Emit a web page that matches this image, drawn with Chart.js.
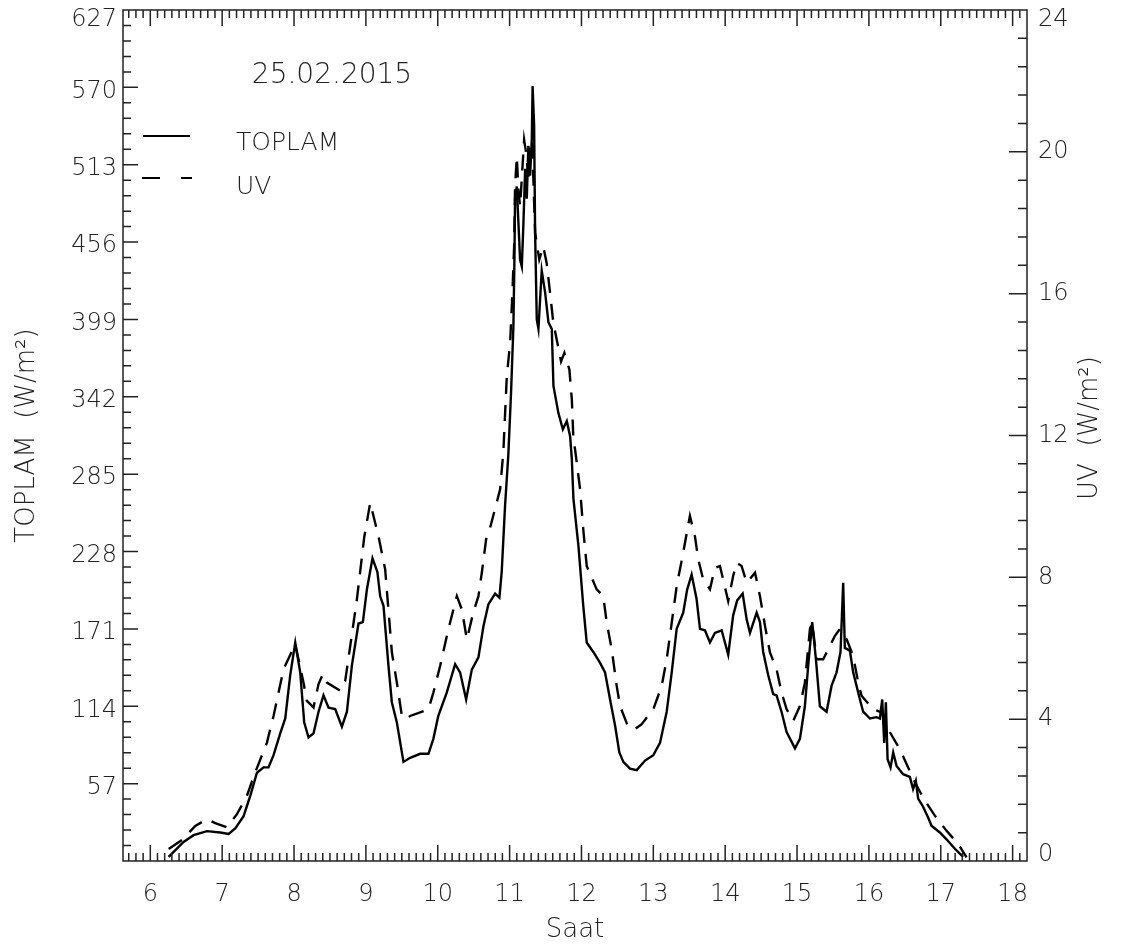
<!DOCTYPE html>
<html>
<head>
<meta charset="utf-8">
<script src="https://cdn.jsdelivr.net/npm/chart.js@4.4.0/dist/chart.umd.min.js"></script>
<style>
  body { margin: 0; background: #fff; }
  .wrap { width: 1123px; height: 952px; position: relative; }
</style>
</head>
<body>
<div class="wrap"><canvas id="myChart"></canvas></div>
<script>
// data
const toplamHours = [6.255, 6.463, 6.602, 6.789, 6.974, 7.089, 7.182, 7.298, 7.391, 7.484,
  7.576, 7.645, 7.715, 7.808, 7.878, 7.947, 8.017, 8.086, 8.142, 8.202,
  8.271, 8.341, 8.410, 8.480, 8.573, 8.666, 8.736, 8.805, 8.897, 8.958,
  9.014, 9.092, 9.160, 9.199, 9.245, 9.314, 9.361, 9.431, 9.523, 9.616,
  9.755, 9.871, 9.939, 10.008, 10.125, 10.242, 10.311, 10.395, 10.474, 10.566,
  10.636, 10.704, 10.798, 10.858, 10.890, 10.937, 10.982, 11.020, 11.053, 11.067,
  11.076, 11.100, 11.146, 11.170, 11.191, 11.216, 11.239, 11.261, 11.285, 11.309,
  11.320, 11.341, 11.355, 11.378, 11.401, 11.447, 11.494, 11.540, 11.587, 11.610,
  11.679, 11.741, 11.796, 11.842, 11.866, 11.888, 11.958, 12.025, 12.073, 12.165,
  12.259, 12.328, 12.398, 12.467, 12.527, 12.583, 12.676, 12.769, 12.885, 13.000,
  13.093, 13.186, 13.256, 13.325, 13.416, 13.471, 13.533, 13.602, 13.649, 13.718,
  13.788, 13.857, 13.951, 14.042, 14.111, 14.167, 14.243, 14.299, 14.345, 14.438,
  14.484, 14.529, 14.598, 14.668, 14.715, 14.784, 14.855, 14.971, 15.040, 15.109,
  15.155, 15.211, 15.262, 15.318, 15.411, 15.480, 15.550, 15.605, 15.642, 15.665,
  15.735, 15.781, 15.828, 15.875, 15.920, 16.014, 16.107, 16.153, 16.185, 16.213,
  16.236, 16.260, 16.301, 16.338, 16.385, 16.476, 16.570, 16.615, 16.653, 16.685,
  16.754, 16.824, 16.871, 16.987, 17.080, 17.196, 17.311];
const toplamValues = [3, 14, 19, 22, 21, 20, 24, 33, 48, 65,
  69, 69, 78, 94, 105, 137, 161, 139, 102, 91,
  94, 110, 122, 113, 112, 99, 110, 144, 175, 176,
  200, 223, 213, 195, 188, 144, 117, 102, 73, 76,
  79, 79, 90, 107, 124, 145, 139, 119, 141, 150,
  173, 189, 197, 194, 213, 262, 299, 345, 394, 443,
  488, 497, 443, 438, 468, 510, 488, 527, 505, 532,
  571, 542, 463, 399, 392, 435, 419, 397, 392, 350,
  330, 318, 324, 313, 296, 267, 232, 188, 161, 154,
  146, 139, 119, 100, 80, 73, 68, 67, 74, 78,
  87, 110, 139, 171, 183, 200, 211, 193, 171, 170,
  161, 168, 170, 152, 181, 192, 197, 178, 168, 183,
  176, 154, 137, 123, 122, 110, 95, 83, 90, 114,
  144, 176, 149, 114, 110, 129, 139, 154, 205, 157,
  155, 139, 129, 119, 110, 105, 106, 105, 119, 87,
  117, 75, 69, 80, 70, 64, 62, 53, 59, 46,
  40, 32, 26, 21, 16, 9, 3];

const uvHours = [6.255, 6.441, 6.626, 6.789, 6.904, 7.067, 7.206, 7.345, 7.460, 7.623,
  7.715, 7.854, 8.017, 8.132, 8.178, 8.271, 8.341, 8.402, 8.458, 8.643,
  8.712, 8.782, 8.875, 8.976, 9.060, 9.175, 9.268, 9.362, 9.431, 9.501,
  9.570, 9.616, 9.871, 9.939, 10.033, 10.148, 10.266, 10.335, 10.405, 10.495,
  10.566, 10.613, 10.673, 10.729, 10.868, 10.913, 10.961, 11.007, 11.039, 11.063,
  11.076, 11.100, 11.122, 11.146, 11.202, 11.230, 11.261, 11.285, 11.313, 11.355,
  11.413, 11.468, 11.516, 11.563, 11.609, 11.656, 11.716, 11.762, 11.832, 11.866,
  11.888, 11.911, 11.981, 12.025, 12.073, 12.212, 12.303, 12.352, 12.421, 12.490,
  12.537, 12.652, 12.745, 12.838, 13.000, 13.117, 13.186, 13.256, 13.325, 13.416,
  13.509, 13.579, 13.625, 13.694, 13.788, 13.857, 13.927, 14.042, 14.111, 14.159,
  14.228, 14.299, 14.415, 14.484, 14.554, 14.623, 14.715, 14.784, 14.855, 14.947,
  15.040, 15.109, 15.179, 15.211, 15.272, 15.364, 15.457, 15.527, 15.596, 15.690,
  15.781, 15.851, 15.898, 16.059, 16.176, 16.292, 16.431, 16.546, 16.640, 16.779,
  16.918, 17.081, 17.242, 17.359];
const uvValues = [0.34, 0.59, 0.99, 1.18, 1.07, 0.95, 1.32, 1.84, 2.50, 3.34,
  4.09, 5.41, 6.11, 5.03, 4.52, 4.33, 4.99, 5.27, 5.03, 4.80,
  5.08, 6.06, 7.38, 9.12, 10.10, 9.16, 8.23, 5.88, 5.03, 4.09,
  4.00, 4.09, 4.28, 4.75, 5.50, 6.54, 7.47, 7.10, 6.25, 7.01,
  7.47, 8.13, 9.07, 9.40, 10.48, 11.55, 13.67, 14.61, 16.02, 17.33,
  19.02, 19.87, 18.93, 18.46, 20.34, 19.97, 19.30, 20.15, 20.34, 17.72,
  16.96, 17.33, 16.86, 16.02, 15.17, 14.70, 14.09, 14.33, 13.86, 13.01,
  11.89, 11.61, 10.48, 9.35, 8.32, 7.66, 7.47, 6.72, 5.97, 4.94,
  4.37, 3.77, 3.72, 3.86, 4.28, 4.94, 5.69, 6.72, 7.75, 8.70,
  9.73, 9.16, 8.51, 7.94, 7.66, 8.27, 8.32, 7.33, 8.04, 8.41,
  8.32, 7.85, 8.13, 7.47, 6.63, 5.88, 5.41, 4.75, 4.28, 3.95,
  4.37, 5.03, 6.54, 6.72, 5.69, 5.69, 6.06, 6.35, 6.54, 6.25,
  5.78, 5.03, 4.66, 4.28, 4.19, 3.63, 3.15, 2.64, 2.22, 1.70,
  1.28, 0.85, 0.48, 0.10];

const hourTicks = [6, 7, 8, 9, 10, 11, 12, 13, 14, 15, 16, 17, 18];
const dateText = '25.02.2015';

const FONT = "'DejaVu Sans', sans-serif";
const INK = '#222';

// box, inward ticks on all four sides, edge labels, legend, date and right title
const frame = {
  id: 'frame',
  afterDatasetsDraw(chart) {
    const c = chart.ctx;
    const a = chart.chartArea;
    const x = chart.scales.x, y = chart.scales.y, y1 = chart.scales.y1;
    c.save();
    c.strokeStyle = INK;
    c.lineWidth = 1.5;
    c.strokeRect(a.left, a.top, a.right - a.left, a.bottom - a.top);

    c.beginPath();
    for (let k = 57; k <= 181; k++) {
      const px = x.getPixelForValue(k / 10);
      const len = k % 10 === 0 ? 16 : 8;
      c.moveTo(px, a.bottom); c.lineTo(px, a.bottom - len);
      c.moveTo(px, a.top); c.lineTo(px, a.top + len);
    }
    for (let k = 1; k < 55; k++) {
      const py = y.getPixelForValue(k * 11.4);
      const len = k % 5 === 0 ? 15 : 8;
      c.moveTo(a.left, py); c.lineTo(a.left + len, py);
    }
    for (let k = 1; k < 30; k++) {
      const py = y1.getPixelForValue(k * 0.8);
      const len = k % 5 === 0 ? 18 : 9;
      c.moveTo(a.right, py); c.lineTo(a.right - len, py);
    }
    c.stroke();

    // end labels sit a little inside the box
    c.fillStyle = INK;
    c.textBaseline = 'middle';
    c.font = '200 24px ' + FONT;
    c.textAlign = 'right';
    c.fillText(String(y.max), a.left - 6, y.getPixelForValue(y.max) + 10);
    c.textAlign = 'left';
    c.fillText(String(y1.max), a.right + 11, y1.getPixelForValue(y1.max) + 10);
    c.fillText(String(y1.min), a.right + 11, y1.getPixelForValue(y1.min) - 6);

    // legend
    c.lineWidth = 2;
    c.strokeStyle = '#000';
    c.beginPath(); c.moveTo(143, 136); c.lineTo(190, 136); c.stroke();
    c.setLineDash([18, 21]);
    c.beginPath(); c.moveTo(142, 178); c.lineTo(192, 178); c.stroke();
    c.setLineDash([]);

    c.font = '200 25px ' + FONT;
    c.textAlign = 'left';
    c.fillText('TOPLAM', 236, 143);
    c.fillText('UV', 236, 187);
    c.font = '200 28px ' + FONT;
    c.textAlign = 'center';
    c.fillText(dateText, 332, 76);

    c.font = '200 26px ' + FONT;
    c.translate(1090, 428);
    c.rotate(-Math.PI / 2);
    c.fillText('UV  (W/m\u00B2)', 0, 0);
    c.restore();
  }
};

const ctx = document.getElementById('myChart').getContext('2d');

const chart = new Chart(ctx, {
  type: 'line',
  data: {
    datasets: [{
      label: 'TOPLAM',
      data: toplamHours.map((h, i) => ({ x: h, y: toplamValues[i] })),
      yAxisID: 'y',
      borderColor: '#000',
      borderWidth: 2.4,
      pointRadius: 0,
      tension: 0,
    },
    {
      label: 'UV',
      data: uvHours.map((h, i) => ({ x: h, y: uvValues[i] })),
      yAxisID: 'y1',
      borderColor: '#000',
      borderWidth: 2.4,
      borderDash: [16, 11],
      pointRadius: 0,
      tension: 0,
    }]
  },
  options: {
    responsive: true,
    maintainAspectRatio: false,
    animation: false,
    layout: { padding: { top: 10, left: 0, right: 0, bottom: 0 } },
    plugins: { legend: { display: false }, tooltip: { enabled: false } },
    scales: {
      x: {
        type: 'linear',
        position: 'bottom',
        min: 5.62,
        max: 18.2,
        grid: { display: false, drawTicks: false },
        border: { display: false },
        afterBuildTicks: (scale) => { scale.ticks = hourTicks.map(v => ({ value: v })); },
        afterFit: (scale) => { scale.height = 91; scale.paddingLeft = 0; scale.paddingRight = 0; },
        ticks: {
          autoSkip: false, maxRotation: 0, padding: 19, color: INK,
          font: { family: FONT, size: 24, weight: 200, lineHeight: 1.2 }
        },
        title: {
          display: true, text: 'Saat', color: INK,
          font: { family: FONT, size: 26, weight: 200 },
          padding: { top: 0, bottom: 6 }
        }
      },
      y: {
        position: 'left',
        min: 0,
        max: 627,
        grid: { display: false, drawTicks: false },
        border: { display: false },
        afterFit: (scale) => { scale.width = 123; scale.paddingTop = 0; scale.paddingBottom = 0; },
        ticks: {
          stepSize: 57, padding: 6, labelOffset: 4, color: INK,
          callback: (v) => (v === 0 || v === 627) ? '' : v,
          font: { family: FONT, size: 24, weight: 200 }
        },
        title: {
          display: true, text: 'TOPLAM  (W/m\u00B2)', color: INK,
          font: { family: FONT, size: 26, weight: 200 },
          padding: { top: 12, bottom: 0 }
        }
      },
      y1: {
        position: 'right',
        min: 0,
        max: 24,
        grid: { display: false, drawTicks: false },
        border: { display: false },
        afterFit: (scale) => { scale.width = 96; scale.paddingTop = 0; scale.paddingBottom = 0; },
        ticks: {
          stepSize: 4, padding: 11, labelOffset: 0, color: INK,
          callback: (v) => (v === 0 || v === 24) ? '' : v,
          font: { family: FONT, size: 24, weight: 200 }
        }
      }
    }
  },
  plugins: [frame]
});
</script>
</body>
</html>
